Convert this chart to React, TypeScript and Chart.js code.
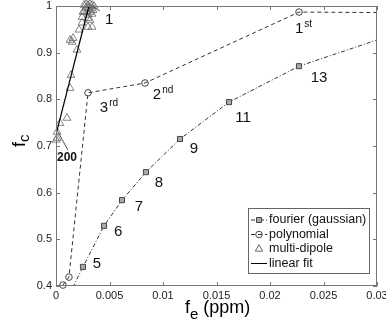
import React, { useEffect, useRef } from 'react';
import { Chart, registerables } from 'chart.js';
Chart.register(...registerables);

// ---- data ----
const xTicks = [0, 0.005, 0.01, 0.015, 0.02, 0.025, 0.03];
const yTicks = [0.4, 0.5, 0.6, 0.7, 0.8, 0.9, 1];

// fourier (gaussian): first and last points lie outside the axes (clipped)
const fourierFe = [0.0012, 0.00252, 0.00449, 0.00617, 0.00841, 0.01159, 0.01617, 0.02271, 0.034];
const fourierFc = [0.38, 0.441, 0.529, 0.584, 0.644, 0.715, 0.794, 0.871, 0.958];
const fourierMarker = [0, 1, 1, 1, 1, 1, 1, 1, 0];

const polyFe = [0.00065, 0.00121, 0.00299, 0.00832, 0.02271, 0.03];
const polyFc = [0.402, 0.419, 0.814, 0.835, 0.987, 0.986];
const polyMarker = [1, 1, 1, 1, 1, 0];

const dipoleFe = [
  0.00262, 0.00281, 0.00299, 0.00318, 0.00337, 0.00355, 0.00281, 0.00309, 0.00327, 0.00346,
  0.0029, 0.00318, 0.00262, 0.00337, 0.00299, 0.00252, 0.00243, 0.00299, 0.00318, 0.00243,
  0.00299, 0.00337, 0.00215, 0.00159, 0.0015, 0.00131, 0.00196, 0.0014, 0.00131, 0.00103,
  0.00037, 0.0001, 0.0001, 0.00002,
];
const dipoleFc = [
  1.002, 1.004, 1.002, 1.004, 1.002, 1.0, 0.996, 0.996, 0.994, 0.991,
  0.989, 0.987, 0.987, 0.983, 0.981, 0.987, 0.976, 0.974, 0.97, 0.964,
  0.955, 0.955, 0.949, 0.931, 0.923, 0.927, 0.906, 0.852, 0.824, 0.76,
  0.749, 0.73, 0.717, 0.713,
];

const fitFe = [0.00005, 0.00308];
const fitFc = [0.729, 1.0];

const annotText = ['5', '6', '7', '8', '9', '11', '13', '1', '2', '3', '1', '200'];
const annotSup = ['', '', '', '', '', '', '', 'st', 'nd', 'rd', '', ''];
const annotFe = [0.00383, 0.0058, 0.00776, 0.00963, 0.0129, 0.01748, 0.02459, 0.02272, 0.00944, 0.00449, 0.00496, 0.00103];
const annotFc = [0.447, 0.516, 0.569, 0.621, 0.694, 0.76, 0.846, 0.951, 0.809, 0.781, 0.97, 0.676];

const pointerFe = [[0.00019, 0.00112], [0.00337, 0.00411]];
const pointerFc = [[0.73, 0.691], [1.0, 0.989]];

const legendNames = ['fourier (gaussian)', 'polynomial', 'multi-dipole', 'linear fit'];

const FONT = "'Liberation Sans', Arial, Helvetica, sans-serif";

const pts = (xs: number[], ys: number[]) => xs.map((x, i) => ({ x, y: ys[i] }));

const decor = {
  id: 'decor',
  afterDraw(chart: any) {
    const ctx = chart.ctx as CanvasRenderingContext2D;
    const { left, right, top, bottom } = chart.chartArea;
    const xs = chart.scales.x;
    const ys = chart.scales.y;
    ctx.save();
    // box
    ctx.strokeStyle = '#777';
    ctx.lineWidth = 1;
    ctx.strokeRect(left + 0.5, top + 0.5, right - left - 1, bottom - top - 1);
    // inward ticks
    ctx.beginPath();
    xTicks.forEach((v) => {
      const p = Math.round(xs.getPixelForValue(v)) + 0.5;
      ctx.moveTo(p, bottom); ctx.lineTo(p, bottom - 4);
      ctx.moveTo(p, top); ctx.lineTo(p, top + 4);
    });
    yTicks.forEach((v) => {
      const p = Math.round(ys.getPixelForValue(v)) + 0.5;
      ctx.moveTo(left, p); ctx.lineTo(left + 4, p);
      ctx.moveTo(right, p); ctx.lineTo(right - 4, p);
    });
    ctx.stroke();

    // pointer lines
    ctx.strokeStyle = '#555';
    ctx.beginPath();
    pointerFe.forEach((fx, i) => {
      ctx.moveTo(xs.getPixelForValue(fx[0]), ys.getPixelForValue(pointerFc[i][0]));
      ctx.lineTo(xs.getPixelForValue(fx[1]), ys.getPixelForValue(pointerFc[i][1]));
    });
    ctx.stroke();

    // annotations
    ctx.fillStyle = '#111';
    ctx.textBaseline = 'middle';
    annotText.forEach((t, i) => {
      const px = xs.getPixelForValue(annotFe[i]);
      const py = ys.getPixelForValue(annotFc[i]);
      const bold = t === '200';
      ctx.font = (bold ? 'bold 12px ' : '15px ') + FONT;
      ctx.textAlign = 'center';
      ctx.fillText(t, px, py);
      if (annotSup[i]) {
        const w = ctx.measureText(t).width;
        ctx.font = '10px ' + FONT;
        ctx.textAlign = 'left';
        ctx.fillText(annotSup[i], px + w / 2 + 1, py - 5);
      }
    });

    // axis titles
    ctx.textBaseline = 'alphabetic';
    ctx.textAlign = 'left';
    ctx.fillStyle = '#000';
    let x0 = 185;
    const by = 313;
    ctx.font = '18px ' + FONT;
    ctx.fillText('f', x0, by);
    x0 += ctx.measureText('f').width;
    ctx.font = '15px ' + FONT;
    ctx.fillText('e', x0, by + 6);
    x0 += ctx.measureText('e').width;
    ctx.font = '18px ' + FONT;
    ctx.fillText(' (ppm)', x0, by);

    ctx.save();
    ctx.translate(25, 147);
    ctx.rotate(-Math.PI / 2);
    ctx.font = '18px ' + FONT;
    ctx.fillText('f', 0, 0);
    const fw = ctx.measureText('f').width;
    ctx.font = '15px ' + FONT;
    ctx.fillText('c', fw, 4);
    ctx.restore();

    // legend
    const lx = 248, ly = 208, lw = 121, lh = 65;
    ctx.fillStyle = '#fff';
    ctx.fillRect(lx, ly, lw, lh);
    ctx.strokeStyle = '#666';
    ctx.strokeRect(lx + 0.5, ly + 0.5, lw, lh);
    const rows = [220, 234.5, 249, 263.5];
    ctx.font = '12.5px ' + FONT;
    ctx.textBaseline = 'middle';
    legendNames.forEach((n, i) => {
      const ry = rows[i];
      ctx.strokeStyle = i === 3 ? '#000' : '#333';
      ctx.lineWidth = 1;
      if (i !== 2) {
        ctx.setLineDash(i === 0 ? [4, 2, 1, 2] : i === 1 ? [4, 3] : []);
        ctx.beginPath();
        ctx.moveTo(251, ry); ctx.lineTo(267, ry);
        ctx.stroke();
        ctx.setLineDash([]);
      }
      const mx = 259;
      ctx.beginPath();
      if (i === 0) {
        ctx.fillStyle = '#aaa';
        ctx.rect(mx - 2.5, ry - 2.5, 5, 5);
        ctx.fill();
        ctx.strokeStyle = '#444';
        ctx.stroke();
      } else if (i === 1) {
        ctx.strokeStyle = '#444';
        ctx.arc(mx, ry, 3.3, 0, Math.PI * 2);
        ctx.stroke();
      } else if (i === 2) {
        ctx.strokeStyle = '#666';
        const r = 4.3;
        ctx.moveTo(mx, ry - r);
        ctx.lineTo(mx + r * 0.866, ry + r * 0.5);
        ctx.lineTo(mx - r * 0.866, ry + r * 0.5);
        ctx.closePath();
        ctx.stroke();
      }
      ctx.fillStyle = '#111';
      ctx.textAlign = 'left';
      ctx.fillText(n, 269, ry);
    });
    ctx.restore();
  },
};

export default function App() {
  const ref = useRef<HTMLCanvasElement>(null);
  useEffect(() => {
    if (!ref.current) return;
    const chart = new Chart(ref.current, {
      type: 'scatter',
      data: {
        datasets: [
          {
            label: 'linear fit',
            data: pts(fitFe, fitFc),
            showLine: true,
            borderColor: '#000',
            borderWidth: 1.2,
            pointRadius: 0,
            clip: false,
          },
          {
            label: 'multi-dipole',
            data: pts(dipoleFe, dipoleFc),
            showLine: false,
            pointStyle: 'triangle',
            pointRadius: 4.5,
            pointBorderColor: '#666',
            pointBackgroundColor: 'rgba(0,0,0,0)',
            pointBorderWidth: 0.8,
            clip: false,
          },
          {
            label: 'polynomial',
            data: pts(polyFe, polyFc),
            showLine: true,
            borderColor: '#333',
            borderWidth: 1,
            borderDash: [4, 3],
            pointStyle: 'circle',
            pointRadius: polyMarker.map((m) => (m ? 3.3 : 0)),
            pointBorderColor: '#444',
            pointBackgroundColor: 'rgba(0,0,0,0)',
            pointBorderWidth: 1,
            clip: false,
          },
          {
            label: 'fourier (gaussian)',
            data: pts(fourierFe, fourierFc),
            showLine: true,
            borderColor: '#333',
            borderWidth: 1,
            borderDash: [4, 2, 1, 2],
            pointStyle: 'rect',
            pointRadius: fourierMarker.map((m) => (m ? 3.6 : 0)),
            pointBorderColor: '#444',
            pointBackgroundColor: '#aaa',
            pointBorderWidth: 1,
            clip: 0,
          },
        ],
      },
      options: {
        animation: false,
        responsive: false,
        events: [],
        layout: { padding: { left: 0, top: 6, right: 9, bottom: 0 } },
        plugins: { legend: { display: false }, tooltip: { enabled: false } },
        scales: {
          x: {
            type: 'linear',
            min: 0,
            max: 0.03,
            grid: { display: false, drawTicks: false },
            border: { display: false },
            ticks: {
              stepSize: 0.005,
              padding: 3,
              color: '#222',
              font: { family: FONT, size: 11 },
              maxRotation: 0,
              autoSkip: false,
              callback: (v: any) => String(+Number(v).toFixed(3)),
            },
            afterFit: (s: any) => {
              s.height = 36;
              s.paddingLeft = 0;
              s.paddingRight = 0;
            },
          },
          y: {
            type: 'linear',
            min: 0.4,
            max: 1,
            grid: { display: false, drawTicks: false },
            border: { display: false },
            ticks: {
              stepSize: 0.1,
              padding: 4,
              color: '#222',
              font: { family: FONT, size: 11 },
              autoSkip: false,
              callback: (v: any) => String(+Number(v).toFixed(1)),
            },
            afterFit: (s: any) => {
              s.width = 56;
              s.paddingTop = 0;
              s.paddingBottom = 0;
            },
          },
        },
      } as any,
      plugins: [decor],
    });
    return () => chart.destroy();
  }, []);
  return (
    <div style={{ position: 'absolute', left: 0, top: 0, width: 386, height: 322, background: '#fff' }}>
      <canvas ref={ref} width={386} height={322} />
    </div>
  );
}
